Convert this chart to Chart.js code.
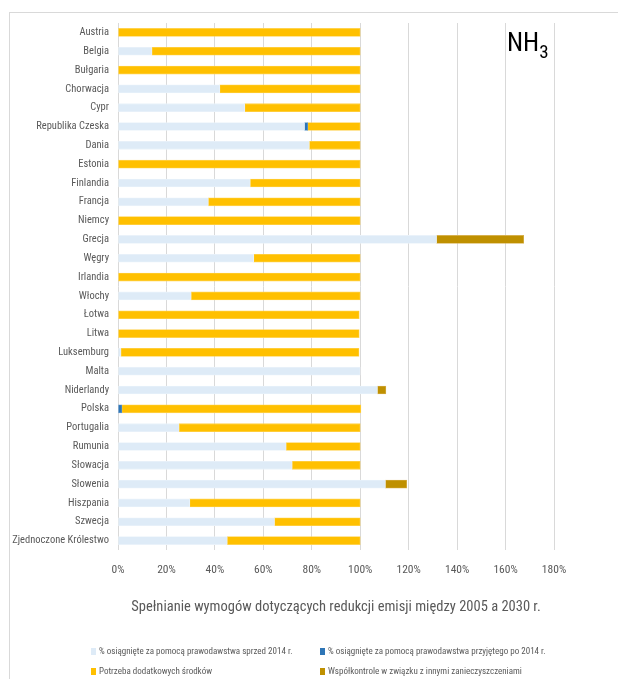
<!DOCTYPE html>
<html lang="pl">
<head>
<meta charset="utf-8">
<script src="https://cdn.jsdelivr.net/npm/chart.js@4"></script>
<style>
  html, body { margin: 0; padding: 0; background: #fff; }
  body { width: 618px; height: 679px; position: relative; overflow: hidden; font-family: "Roboto Condensed", "Liberation Sans", sans-serif; }
  .frame { position: absolute; left: 9px; top: 12px; width: 640px; height: 700px; border: 1px solid #d9d9d9; box-sizing: border-box; }
  .chart-box { position: absolute; left: 0; top: 0; width: 618px; height: 630px; }
  .pollutant { position: absolute; left: 507px; top: 27px; font-size: 26px; color: #000; }
  .pollutant sub { font-size: 19px; vertical-align: -7px; }
  .legend { position: absolute; left: 0; top: 0; width: 618px; height: 679px; pointer-events: none; }
  .legend-item { position: absolute; font-size: 9px; color: #595959; white-space: nowrap; line-height: 12px; transform: translateY(-6px); }
  .legend-item i { display: inline-block; width: 5px; height: 7px; margin-right: 3px; vertical-align: -1px; }
</style>
</head>
<body>
<div class="frame"></div>
<div class="chart-box"><canvas id="nh3Chart" width="618" height="630"></canvas></div>
<div class="pollutant">NH<sub>3</sub></div>
<div class="legend" id="legend"></div>
<script>
// Zgodność z wymogami redukcji NH3 (2005 -> 2030), w % wymaganej redukcji

const countries = [
    'Austria', 'Belgia', 'Bułgaria', 'Chorwacja', 'Cypr', 'Republika Czeska', 'Dania',
    'Estonia', 'Finlandia', 'Francja', 'Niemcy', 'Grecja', 'Węgry', 'Irlandia',
    'Włochy', 'Łotwa', 'Litwa', 'Luksemburg', 'Malta', 'Niderlandy', 'Polska',
    'Portugalia', 'Rumunia', 'Słowacja', 'Słowenia', 'Hiszpania', 'Szwecja', 'Zjednoczone Królestwo'
];

// % osiągnięte za pomocą prawodawstwa sprzed 2014 r.
const pre2014 = [0, 14, 0, 42, 52.3, 77, 79, 0, 54.6, 37.3, 0, 131.5, 56, 0,
    30.2, 0, 0, 1.2, 100, 107.1, 0, 25.2, 69.4, 71.9, 110.4, 29.6, 64.6, 45.1];

// % osiągnięte za pomocą prawodawstwa przyjętego po 2014 r.
const post2014 = [0, 0, 0, 0, 0, 1.3, 0, 0, 0, 0, 0, 0, 0, 0,
    0, 0, 0, 0, 0, 0, 1.6, 0, 0, 0, 0, 0, 0, 0];

// Potrzeba dodatkowych środków
const additional = [100, 86, 100, 58, 47.7, 21.7, 21, 100, 45.4, 62.7, 100, 0, 44, 100,
    69.8, 99.6, 99.6, 98.3, 0, 0, 98.7, 74.8, 30.6, 28.1, 0, 70.4, 35.4, 54.9];

// Współkontrole w związku z innymi zanieczyszczeniami
const coControl = [0, 0, 0, 0, 0, 0, 0, 0, 0, 0, 0, 36, 0, 0,
    0, 0, 0, 0, 0, 3.5, 0, 0, 0, 0, 8.8, 0, 0, 0];

const xTicks = [0, 20, 40, 60, 80, 100, 120, 140, 160, 180];

const series = [
    { label: '% osiągnięte za pomocą prawodawstwa sprzed 2014 r.', data: pre2014, color: '#deebf7', edge: '#eaf2fa' },
    { label: '% osiągnięte za pomocą prawodawstwa przyjętego po 2014 r.', data: post2014, color: '#2e75b6', edge: '#5b93c8' },
    { label: 'Potrzeba dodatkowych środków', data: additional, color: '#ffc000', edge: '#ffd24d' },
    { label: 'Współkontrole w związku z innymi zanieczyszczeniami', data: coControl, color: '#bf9000', edge: '#d6b04d' }
];

const fontFamily = '"Roboto Condensed", "Liberation Sans", sans-serif';

new Chart(document.getElementById('nh3Chart').getContext('2d'), {
    type: 'bar',
    data: {
        labels: countries,
        datasets: series.map(s => ({
            label: s.label,
            data: s.data,
            backgroundColor: s.color,
            borderColor: s.edge,
            borderWidth: 0.8,
            borderSkipped: false,
            barThickness: 8
        }))
    },
    options: {
        indexAxis: 'y',
        responsive: false,
        animation: false,
        layout: { padding: { left: 0, right: 64, top: 23, bottom: 0 } },
        plugins: {
            legend: { display: false },
            tooltip: { enabled: false }
        },
        scales: {
            x: {
                stacked: true,
                min: 0,
                max: 180,
                afterBuildTicks: axis => { axis.ticks = xTicks.map(v => ({ value: v })); },
                afterFit: axis => { axis.height = 80; },
                grid: { color: '#d9d9d9', lineWidth: 1, drawTicks: false },
                border: { display: false },
                ticks: {
                    padding: 13,
                    color: '#595959',
                    font: { family: fontFamily, size: 11.5 },
                    callback: v => v + '%'
                },
                title: {
                    display: true,
                    text: 'Spełnianie wymogów dotyczących redukcji emisji między 2005 a 2030 r.',
                    color: '#595959',
                    font: { family: fontFamily, size: 14.5 },
                    padding: { top: 8, bottom: 14 }
                }
            },
            y: {
                stacked: true,
                grid: { display: false, drawTicks: false },
                border: { display: false },
                afterFit: axis => { axis.width = 118; },
                ticks: {
                    padding: 9,
                    color: '#595959',
                    font: { family: fontFamily, size: 10.5 },
                    autoSkip: false
                }
            }
        }
    }
});

// legenda w dwóch kolumnach pod wykresem
const legendPos = [[91, 651], [320, 651], [91, 671], [320, 671]];
const legendDiv = document.getElementById('legend');
series.forEach((s, i) => {
    const item = document.createElement('div');
    item.className = 'legend-item';
    item.style.left = legendPos[i][0] + 'px';
    item.style.top = legendPos[i][1] + 'px';
    item.innerHTML = '<i style="background:' + s.color + '"></i>' + s.label;
    legendDiv.appendChild(item);
});
</script>
</body>
</html>
